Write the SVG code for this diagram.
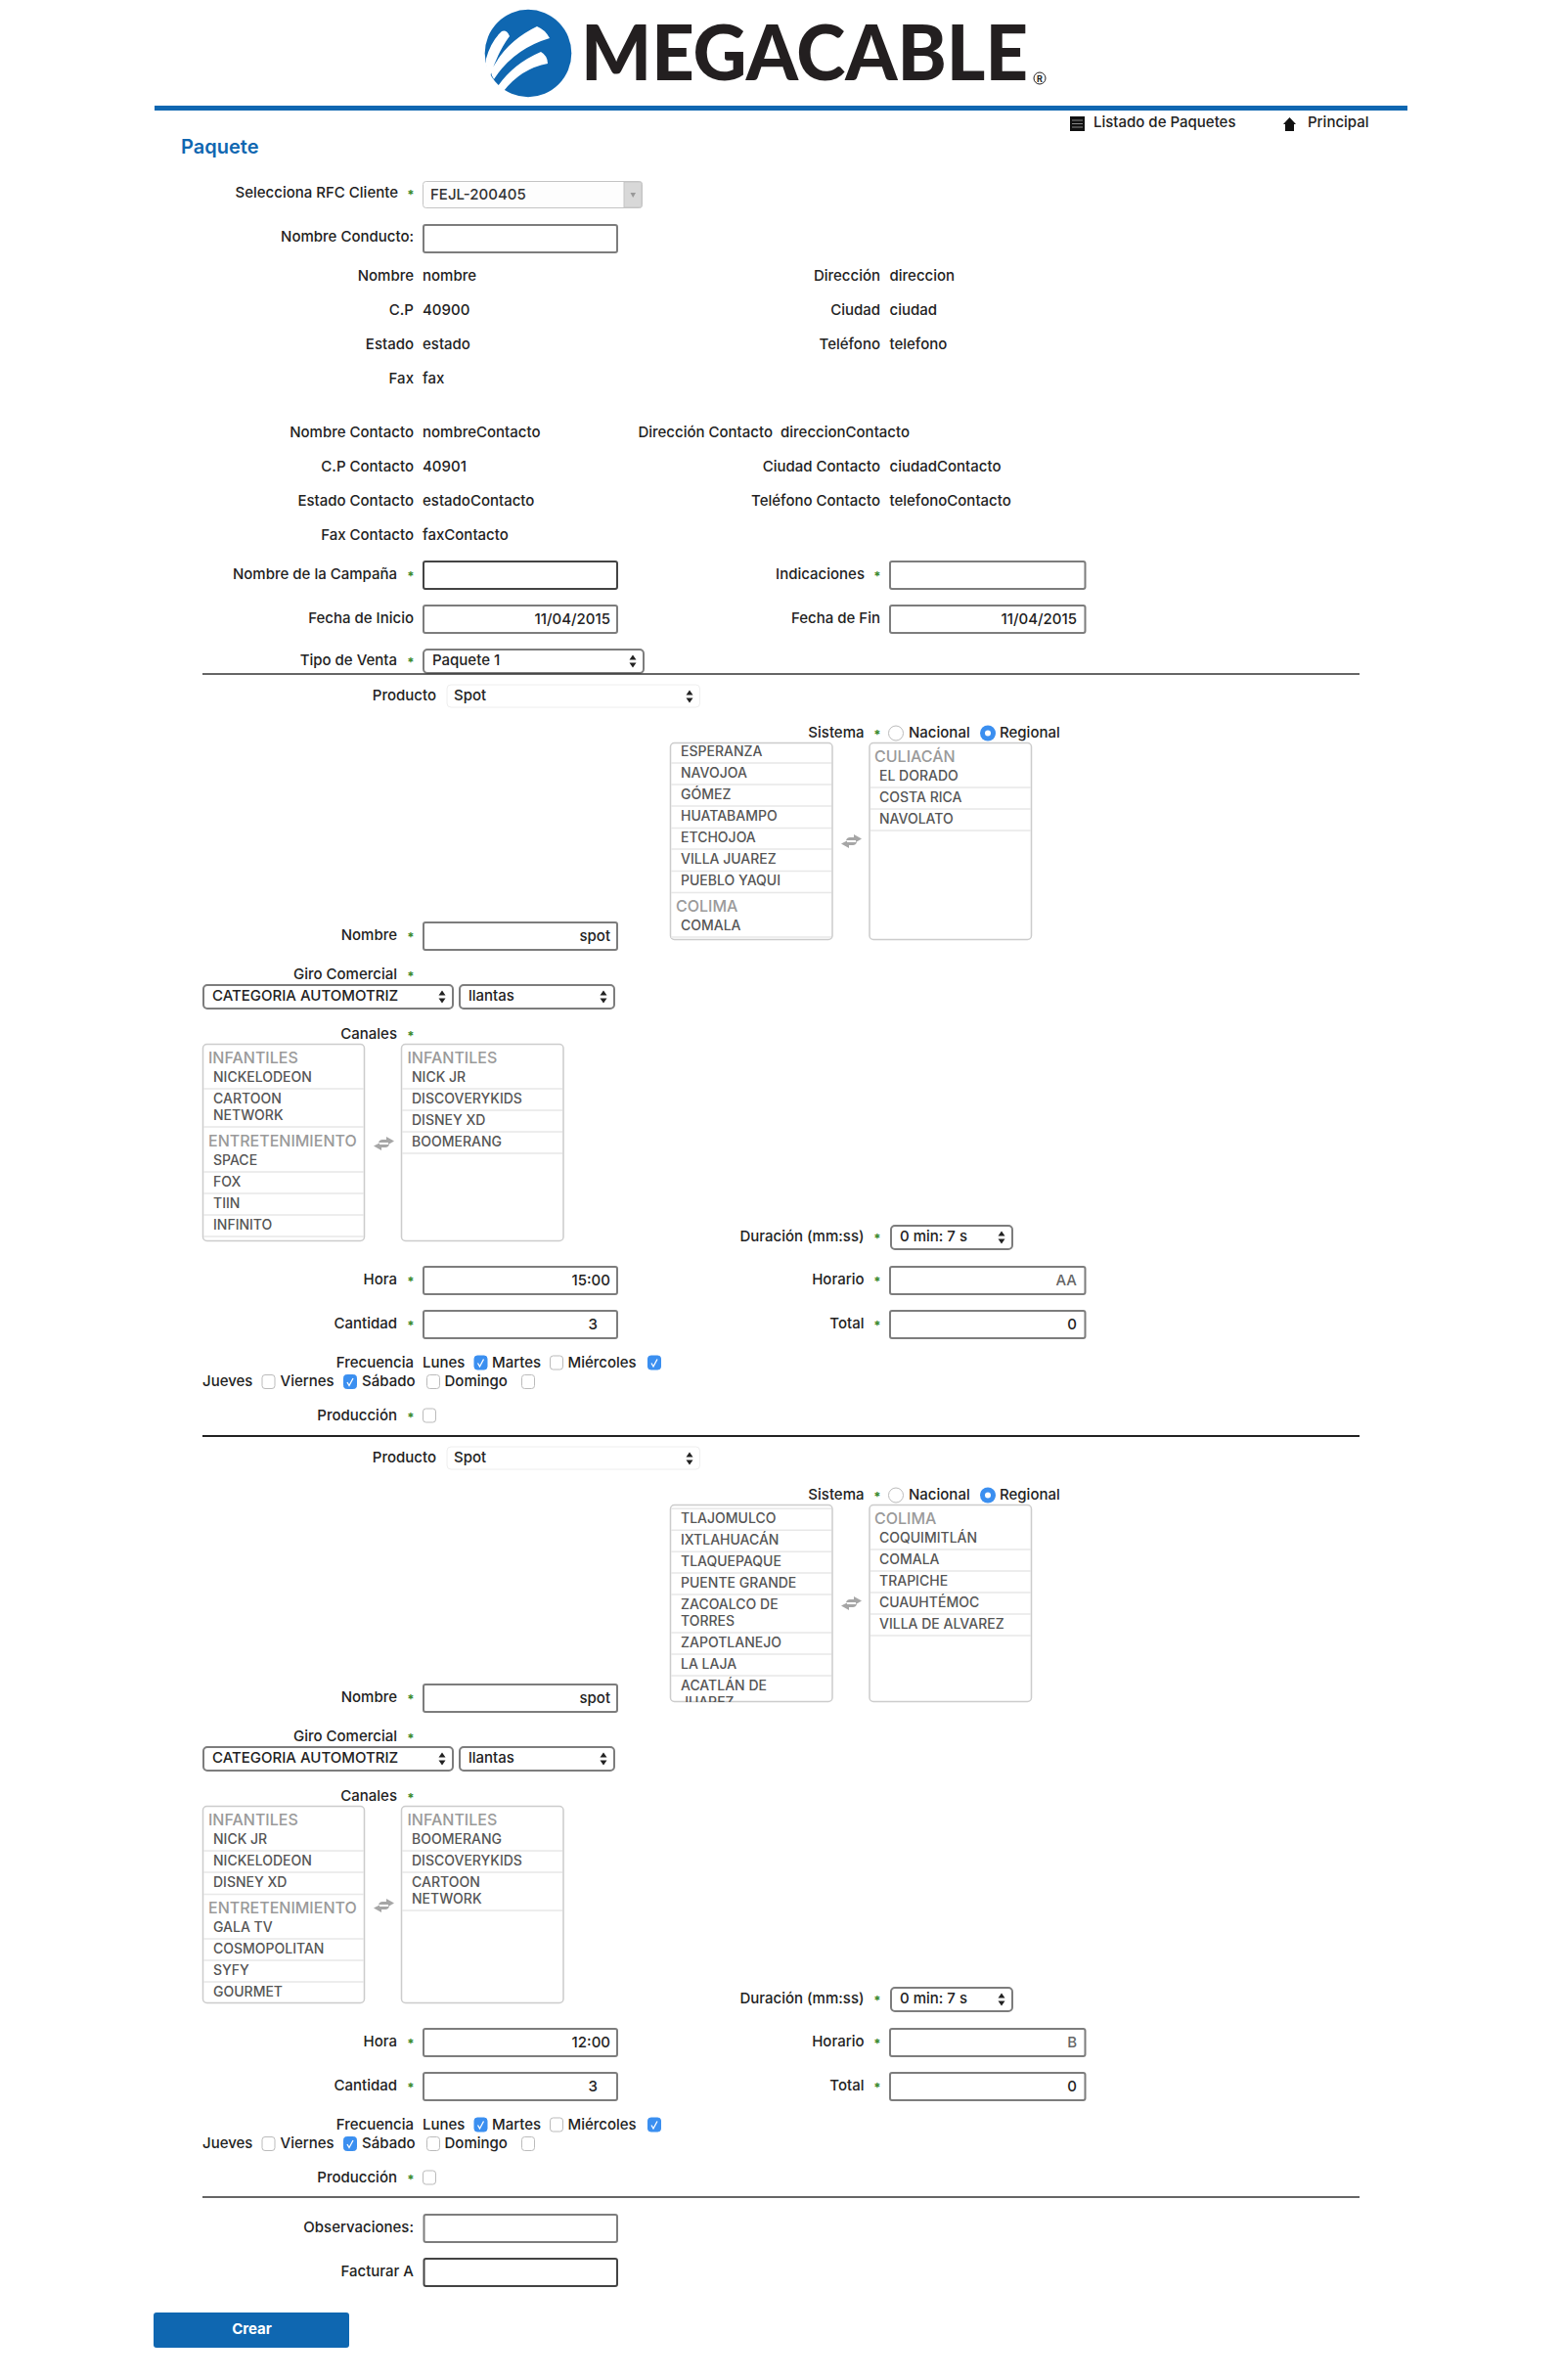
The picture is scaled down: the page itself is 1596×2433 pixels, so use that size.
<svg xmlns="http://www.w3.org/2000/svg" xmlns:xlink="http://www.w3.org/1999/xlink" width="1596" height="2433" viewBox="0 0 1596 2433">
<style>
text{font-family:Inter,"Noto Sans","Liberation Sans",sans-serif;font-size:15px;font-weight:500;fill:#222}
.e{text-anchor:end}
.star{text-anchor:middle;fill:#3a8a2e;font-size:13px;font-weight:700}
.in{fill:#fff;stroke:#7d7d7d;stroke-width:2}
.dk{stroke:#444}
.lb{fill:#fff;stroke:#ccc;stroke-width:1.5}
.sep{stroke:#e8e8e8;stroke-width:1.5}
.it{font-size:14px;fill:#555}
.gr{font-size:16px;fill:#9a9a9a}
.hr{stroke:#333;stroke-width:1.5}
</style>
<defs>
<path id="arr" d="M-3.5-1.5L0-6.5L3.5-1.5ZM-3.5 1.5L0 6.5L3.5 1.5Z" fill="#222"/>
<path id="swap" d="M5 6Q6 3 9 3H13V0L21 4.5L15 8V6ZM16 8Q15 11 12 11H8V14L0 9.5L6 6.5V8Z" fill="#a6a6a6"/>
<rect id="cb" width="13" height="14" rx="3" fill="#fff" stroke="#bbb"/>
<g id="cbc"><rect width="13" height="14" rx="3" fill="#3b8ff0" stroke="#3b8ff0"/><path d="M3.5 7.5L5.5 11L9.5 3.5" fill="none" stroke="#fff" stroke-width="1.3"/></g>
<clipPath id="c1"><rect x="685" y="759" width="166" height="202"/></clipPath>
<clipPath id="c2"><rect x="207" y="1067" width="165.5" height="202"/></clipPath>
</defs>
<g id="logo">
<ellipse cx="540" cy="54.5" rx="44.3" ry="44.7" fill="#0f67b1"/>
<path fill="#fff" d="M513 32Q518 30 521 37Q509 53 501 78Q496 70 497 60Q502 42 513 32ZM549 27Q557 30 562 39Q525 50 505 81Q502 77 502 73Q516 43 549 27ZM553 53Q560 57 560 65Q533 70 515 93L509 88Q525 65 553 53Z"/>
<text x="594" y="82" font-size="78" textLength="457" lengthAdjust="spacingAndGlyphs" style="font-family:Lato,'Liberation Sans',sans-serif;font-size:78px;font-weight:900;fill:#231f20">MEGACABLE</text>
<circle cx="1063" cy="80" r="6" fill="none" stroke="#231f20" stroke-width="1"/>
<text x="1063" y="83.5" text-anchor="middle" style="font-size:9px;font-weight:700;fill:#231f20">R</text>
</g>
<rect id="top-rule" x="158" y="108" width="1281" height="5" fill="#0f67b1"/>
<g id="nav">
<rect x="1094" y="119" width="15" height="15" fill="#111"/>
<path d="M1096 123H1107M1096 126.5H1107M1096 130H1107" stroke="#888" stroke-width="1"/>
<text x="1118" y="130">Listado de Paquetes</text>
<path d="M1318.5 120L1325 127H1323V134H1314V127H1312Z" fill="#111"/>
<text x="1337" y="130">Principal</text>
</g>
<text id="title" x="185" y="157" style="font-size:20px;font-weight:600;fill:#0f67b1">Paquete</text>
<g id="header-form">
<text class="e" x="407" y="202">Selecciona RFC Cliente</text><text class="star" x="420" y="204">*</text>
<rect x="432.5" y="185.5" width="224" height="27" rx="3" fill="#fdfdfd" stroke="#c4c4c4"/>
<path d="M638 186H655a1.500 1.500 0 0 1 1 1V211a1.500 1.500 0 0 1-1 1H638Z" fill="#d8d8d8" stroke="#c4c4c4"/>
<path d="M644.500 197H650L647.200 202Z" fill="#999"/>
<text x="440" y="204" style="fill:#333">FEJL-200405</text>
<text class="e" x="423" y="247">Nombre Conducto:</text>
<rect class="in" x="433" y="230" width="198" height="28" rx="2"/>
<text class="e" x="423" y="287">Nombre</text><text x="432" y="287">nombre</text>
<text class="e" x="423" y="322">C.P</text><text x="432" y="322">40900</text>
<text class="e" x="423" y="357">Estado</text><text x="432" y="357">estado</text>
<text class="e" x="423" y="392">Fax</text><text x="432" y="392">fax</text>
<text class="e" x="900" y="287">Dirección</text><text x="909.500" y="287">direccion</text>
<text class="e" x="900" y="322">Ciudad</text><text x="909.500" y="322">ciudad</text>
<text class="e" x="900" y="357">Teléfono</text><text x="909.500" y="357">telefono</text>
<text class="e" x="423" y="447">Nombre Contacto</text><text x="432" y="447">nombreContacto</text>
<text class="e" x="423" y="482">C.P Contacto</text><text x="432" y="482">40901</text>
<text class="e" x="423" y="517">Estado Contacto</text><text x="432" y="517">estadoContacto</text>
<text class="e" x="423" y="552">Fax Contacto</text><text x="432" y="552">faxContacto</text>
<text class="e" x="790" y="447">Dirección Contacto</text><text x="798" y="447">direccionContacto</text>
<text class="e" x="900" y="482">Ciudad Contacto</text><text x="909.500" y="482">ciudadContacto</text>
<text class="e" x="900" y="517">Teléfono Contacto</text><text x="909.500" y="517">telefonoContacto</text>
<text class="e" x="406" y="592">Nombre de la Campaña</text><text class="star" x="420" y="594">*</text>
<rect class="in dk" x="433" y="574" width="198" height="28" rx="2"/>
<text class="e" x="884" y="592">Indicaciones</text><text class="star" x="897" y="594">*</text>
<rect class="in" x="910" y="574" width="199.500" height="28" rx="2"/>
<text class="e" x="423" y="637">Fecha de Inicio</text>
<rect class="in" x="433" y="619" width="198" height="28" rx="2"/><text class="e" x="624" y="638">11/04/2015</text>
<text class="e" x="900" y="637">Fecha de Fin</text>
<rect class="in" x="910" y="619" width="199.500" height="28" rx="2"/><text class="e" x="1101" y="638">11/04/2015</text>
<text class="e" x="406" y="680">Tipo de Venta</text><text class="star" x="420" y="682">*</text>
<rect class="in" x="433" y="664" width="225" height="24" rx="4"/>
<text x="442" y="680">Paquete 1</text><use href="#arr" x="647" y="676"/>
</g>
<line class="hr" x1="207" y1="689" x2="1390" y2="689"/>
<g id="section-1">
<text class="e" x="446" y="716">Producto</text>
<rect x="457" y="700" width="258.500" height="23" rx="4" fill="#fff" stroke="#eee"/>
<text x="464" y="716">Spot</text><use href="#arr" x="705" y="712"/>
<text class="e" x="883.500" y="754">Sistema</text><text class="star" x="897" y="756">*</text>
<circle cx="916" cy="749.500" r="7.500" fill="#fff" stroke="#bbb"/>
<text x="929" y="754">Nacional</text>
<circle cx="1010" cy="749.500" r="8" fill="#3b8ff0"/><circle cx="1010" cy="749.500" r="3" fill="#fff"/>
<text x="1022" y="754">Regional</text>
<rect class="lb" x="685.500" y="759.500" width="165.500" height="201" rx="4"/>
<g class="sep"><path d="M686 780H850M686 802H850M686 824H850M686 846.500H850M686 868H850M686 890.500H850M686 912.500H850M686 958H850"/></g>
<g clip-path="url(#c1)">
<text class="it" x="696" y="773">ESPERANZA</text><text class="it" x="696" y="795">NAVOJOA</text><text class="it" x="696" y="817">GÓMEZ</text><text class="it" x="696" y="839">HUATABAMPO</text><text class="it" x="696" y="861">ETCHOJOA</text><text class="it" x="696" y="883">VILLA JUAREZ</text><text class="it" x="696" y="905">PUEBLO YAQUI</text><text class="gr" x="691" y="932">COLIMA</text><text class="it" x="696" y="951">COMALA</text>
</g>
<use href="#swap" x="860" y="853"/>
<rect class="lb" x="889" y="759.500" width="165.500" height="201" rx="4"/>
<path class="sep" d="M890 805H1054M890 827H1054M890 849H1054"/>
<text class="gr" x="894" y="779">CULIACÁN</text><text class="it" x="899" y="798">EL DORADO</text><text class="it" x="899" y="820">COSTA RICA</text><text class="it" x="899" y="842">NAVOLATO</text>
<text class="e" x="406" y="961">Nombre</text><text class="star" x="420" y="963">*</text>
<rect class="in" x="433" y="943" width="198" height="28" rx="2"/><text class="e" x="624" y="962">spot</text>
<text class="e" x="406" y="1001">Giro Comercial</text><text class="star" x="420" y="1003">*</text>
<rect class="in" x="208" y="1007" width="255" height="24" rx="4"/><text x="217" y="1023">CATEGORIA AUTOMOTRIZ</text><use href="#arr" x="452" y="1019"/>
<rect class="in" x="470" y="1007" width="158" height="24" rx="4"/><text x="479" y="1023">llantas</text><use href="#arr" x="617" y="1019"/>
<text class="e" x="406" y="1062">Canales</text><text class="star" x="420" y="1064">*</text>
<rect class="lb" x="207.500" y="1067.500" width="165" height="201" rx="4"/>
<path class="sep" d="M208 1113H372M208 1152H372M208 1198H372M208 1220H372M208 1242H372M208 1264H372"/>
<g clip-path="url(#c2)">
<text class="gr" x="213" y="1087">INFANTILES</text><text class="it" x="218" y="1106">NICKELODEON</text><text class="it" x="218" y="1128">CARTOON</text><text class="it" x="218" y="1145">NETWORK</text><text class="gr" x="213" y="1172">ENTRETENIMIENTO</text><text class="it" x="218" y="1191">SPACE</text><text class="it" x="218" y="1213">FOX</text><text class="it" x="218" y="1235">TIIN</text><text class="it" x="218" y="1257">INFINITO</text>
</g>
<use href="#swap" x="382" y="1162"/>
<rect class="lb" x="410.500" y="1067.500" width="165.500" height="201" rx="4"/>
<path class="sep" d="M411 1113H575M411 1135H575M411 1157H575M411 1179H575"/>
<text class="gr" x="416.500" y="1087">INFANTILES</text><text class="it" x="421" y="1106">NICK JR</text><text class="it" x="421" y="1128">DISCOVERYKIDS</text><text class="it" x="421" y="1150">DISNEY XD</text><text class="it" x="421" y="1172">BOOMERANG</text>
<text class="e" x="883.500" y="1269">Duración (mm:ss)</text><text class="star" x="897" y="1271">*</text>
<rect class="in" x="911" y="1253" width="124" height="24" rx="4"/><text x="920" y="1269">0 min: 7 s</text><use href="#arr" x="1024" y="1265"/>
<text class="e" x="406" y="1313">Hora</text><text class="star" x="420" y="1315">*</text>
<rect class="in" x="433" y="1295" width="198" height="28" rx="2"/><text class="e" x="624" y="1314">15:00</text>
<text class="e" x="883.500" y="1313">Horario</text><text class="star" x="897" y="1315">*</text>
<rect class="in" x="910" y="1295" width="199.500" height="28" rx="2"/><text class="e" x="1101" y="1314" style="fill:#666">AA</text>
<text class="e" x="406" y="1358">Cantidad</text><text class="star" x="420" y="1360">*</text>
<rect class="in" x="433" y="1340" width="198" height="28" rx="2"/><text class="e" x="611" y="1359">3</text>
<text class="e" x="883.500" y="1358">Total</text><text class="star" x="897" y="1360">*</text>
<rect class="in" x="910" y="1340" width="199.500" height="28" rx="2"/><text class="e" x="1101" y="1359">0</text>
<text class="e" x="423" y="1398">Frecuencia</text><text x="432" y="1398">Lunes</text><use href="#cbc" x="485" y="1386"/><text x="503" y="1398">Martes</text><use href="#cb" x="562.500" y="1386"/><text x="580.500" y="1398">Miércoles</text><use href="#cbc" x="662.500" y="1386"/>
<text x="207" y="1417">Jueves</text><use href="#cb" x="268" y="1405.500"/><text x="286.500" y="1417">Viernes</text><use href="#cbc" x="351.500" y="1405.500"/><text x="370" y="1417">Sábado</text><use href="#cb" x="436.500" y="1405.500"/><text x="454.500" y="1417">Domingo</text><use href="#cb" x="533.500" y="1405.500"/>
<text class="e" x="406" y="1452">Producción</text><text class="star" x="420" y="1454">*</text><use href="#cb" x="432.500" y="1440"/>
</g>
<line x1="207" y1="1468" x2="1390" y2="1468" stroke="#222" stroke-width="2"/>
<g id="section-2" transform="translate(0 779)">
<text class="e" x="446" y="716">Producto</text>
<rect x="457" y="700" width="258.500" height="23" rx="4" fill="#fff" stroke="#eee"/>
<text x="464" y="716">Spot</text><use href="#arr" x="705" y="712"/>
<text class="e" x="883.500" y="754">Sistema</text><text class="star" x="897" y="756">*</text>
<circle cx="916" cy="749.500" r="7.500" fill="#fff" stroke="#bbb"/>
<text x="929" y="754">Nacional</text>
<circle cx="1010" cy="749.500" r="8" fill="#3b8ff0"/><circle cx="1010" cy="749.500" r="3" fill="#fff"/>
<text x="1022" y="754">Regional</text>
<rect class="lb" x="685.500" y="759.500" width="165.500" height="201" rx="4"/>
<path class="sep" d="M686 763.300H850M686 785.300H850M686 807.300H850M686 829H850M686 851H850M686 890H850M686 912H850M686 934H850"/>
<g clip-path="url(#c1)">
<text class="it" x="696" y="777.700">TLAJOMULCO</text><text class="it" x="696" y="799.700">IXTLAHUACÁN</text><text class="it" x="696" y="821.700">TLAQUEPAQUE</text><text class="it" x="696" y="843.700">PUENTE GRANDE</text><text class="it" x="696" y="865.700">ZACOALCO DE</text><text class="it" x="696" y="882.700">TORRES</text><text class="it" x="696" y="904.700">ZAPOTLANEJO</text><text class="it" x="696" y="926.700">LA LAJA</text><text class="it" x="696" y="948.700">ACATLÁN DE</text><text class="it" x="696" y="965.700">JUAREZ</text>
</g>
<use href="#swap" x="860" y="853"/>
<rect class="lb" x="889" y="759.500" width="165.500" height="201" rx="4"/>
<path class="sep" d="M890 805H1054M890 827H1054M890 849H1054M890 871H1054M890 893H1054"/>
<text class="gr" x="894" y="778.700">COLIMA</text><text class="it" x="899" y="797.700">COQUIMITLÁN</text><text class="it" x="899" y="819.700">COMALA</text><text class="it" x="899" y="841.700">TRAPICHE</text><text class="it" x="899" y="863.700">CUAUHTÉMOC</text><text class="it" x="899" y="885.700">VILLA DE ALVAREZ</text>
<text class="e" x="406" y="961">Nombre</text><text class="star" x="420" y="963">*</text>
<rect class="in" x="433" y="943" width="198" height="28" rx="2"/><text class="e" x="624" y="962">spot</text>
<text class="e" x="406" y="1001">Giro Comercial</text><text class="star" x="420" y="1003">*</text>
<rect class="in" x="208" y="1007" width="255" height="24" rx="4"/><text x="217" y="1023">CATEGORIA AUTOMOTRIZ</text><use href="#arr" x="452" y="1019"/>
<rect class="in" x="470" y="1007" width="158" height="24" rx="4"/><text x="479" y="1023">llantas</text><use href="#arr" x="617" y="1019"/>
<text class="e" x="406" y="1062">Canales</text><text class="star" x="420" y="1064">*</text>
<rect class="lb" x="207.500" y="1067.500" width="165" height="201" rx="4"/>
<path class="sep" d="M208 1113H372M208 1135H372M208 1157.500H372M208 1203H372M208 1225H372M208 1247H372"/>
<g clip-path="url(#c2)">
<text class="gr" x="213" y="1087">INFANTILES</text><text class="it" x="218" y="1106">NICK JR</text><text class="it" x="218" y="1128">NICKELODEON</text><text class="it" x="218" y="1150">DISNEY XD</text><text class="gr" x="213" y="1177">ENTRETENIMIENTO</text><text class="it" x="218" y="1196">GALA TV</text><text class="it" x="218" y="1218">COSMOPOLITAN</text><text class="it" x="218" y="1240">SYFY</text><text class="it" x="218" y="1262">GOURMET</text>
</g>
<use href="#swap" x="382" y="1162"/>
<rect class="lb" x="410.500" y="1067.500" width="165.500" height="201" rx="4"/>
<path class="sep" d="M411 1113H575M411 1135H575M411 1174H575"/>
<text class="gr" x="416.500" y="1087">INFANTILES</text><text class="it" x="421" y="1106">BOOMERANG</text><text class="it" x="421" y="1128">DISCOVERYKIDS</text><text class="it" x="421" y="1150">CARTOON</text><text class="it" x="421" y="1167">NETWORK</text>
<text class="e" x="883.500" y="1269">Duración (mm:ss)</text><text class="star" x="897" y="1271">*</text>
<rect class="in" x="911" y="1253" width="124" height="24" rx="4"/><text x="920" y="1269">0 min: 7 s</text><use href="#arr" x="1024" y="1265"/>
<text class="e" x="406" y="1313">Hora</text><text class="star" x="420" y="1315">*</text>
<rect class="in" x="433" y="1295" width="198" height="28" rx="2"/><text class="e" x="624" y="1314">12:00</text>
<text class="e" x="883.500" y="1313">Horario</text><text class="star" x="897" y="1315">*</text>
<rect class="in" x="910" y="1295" width="199.500" height="28" rx="2"/><text class="e" x="1101" y="1314" style="fill:#666">B</text>
<text class="e" x="406" y="1358">Cantidad</text><text class="star" x="420" y="1360">*</text>
<rect class="in" x="433" y="1340" width="198" height="28" rx="2"/><text class="e" x="611" y="1359">3</text>
<text class="e" x="883.500" y="1358">Total</text><text class="star" x="897" y="1360">*</text>
<rect class="in" x="910" y="1340" width="199.500" height="28" rx="2"/><text class="e" x="1101" y="1359">0</text>
<text class="e" x="423" y="1398">Frecuencia</text><text x="432" y="1398">Lunes</text><use href="#cbc" x="485" y="1386"/><text x="503" y="1398">Martes</text><use href="#cb" x="562.500" y="1386"/><text x="580.500" y="1398">Miércoles</text><use href="#cbc" x="662.500" y="1386"/>
<text x="207" y="1417">Jueves</text><use href="#cb" x="268" y="1405.500"/><text x="286.500" y="1417">Viernes</text><use href="#cbc" x="351.500" y="1405.500"/><text x="370" y="1417">Sábado</text><use href="#cb" x="436.500" y="1405.500"/><text x="454.500" y="1417">Domingo</text><use href="#cb" x="533.500" y="1405.500"/>
<text class="e" x="406" y="1452">Producción</text><text class="star" x="420" y="1454">*</text><use href="#cb" x="432.500" y="1440"/>
</g>
<line class="hr" x1="207" y1="2246" x2="1390" y2="2246"/>
<g id="footer-form">
<text class="e" x="423" y="2282">Observaciones:</text><rect class="in" x="433.500" y="2264" width="197.500" height="28" rx="2"/>
<text class="e" x="423" y="2327">Facturar A</text><rect class="in dk" x="433.500" y="2309" width="197.500" height="28" rx="2"/>
</g>
<g id="crear">
<rect x="157" y="2364" width="200" height="36" rx="3" fill="#0f67b1"/>
<text x="257.500" y="2386" text-anchor="middle" style="font-weight:700;fill:#fff">Crear</text>
</g>
</svg>
